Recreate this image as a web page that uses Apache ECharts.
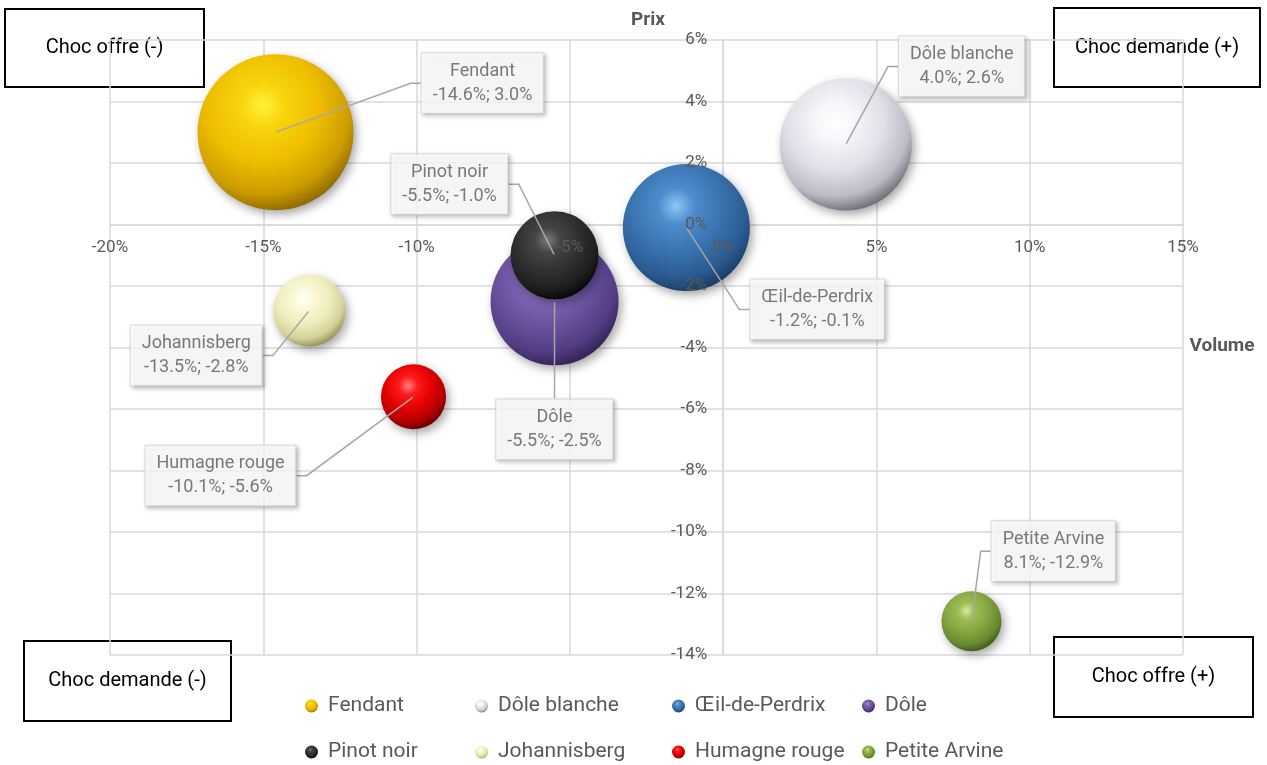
<!DOCTYPE html>
<html>
<head>
<meta charset="utf-8">
<script src="https://cdn.jsdelivr.net/npm/echarts@6/dist/echarts.min.js"></script>
<style>
html,body{margin:0;padding:0;background:#fff;}
#chart{width:1267px;height:765px;}
</style>
</head>
<body>
<div id="chart"></div>
<script>
// ---- data ----
const categories = ['Fendant', 'Dôle blanche', 'Œil-de-Perdrix', 'Dôle', 'Pinot noir', 'Johannisberg', 'Humagne rouge', 'Petite Arvine'];
const volumeChange = [-14.6, 4.0, -1.2, -5.5, -5.5, -13.5, -10.1, 8.1];   // x, %
const priceChange  = [3.0, 2.6, -0.1, -2.5, -1.0, -2.8, -5.6, -12.9];     // y, %
const bubbleSize   = [100, 71.6, 66.3, 67.3, 31.8, 21.3, 17.4, 14.8];       // relative weight
const xTickRange = { min: -20, max: 15, interval: 5 };
const yTickRange = { min: -14, max: 6, interval: 2 };
const quadrantLabels = ['Choc offre (-)', 'Choc demande (+)', 'Choc demande (-)', 'Choc offre (+)'];
const axisTitles = { x: 'Volume', y: 'Prix' };

// ---- font detection ----
function hasFont(name) {
  const c = document.createElement('canvas').getContext('2d');
  const s = 'Fendant Dôle 123% abc';
  c.font = '40px monospace';
  const a = c.measureText(s).width;
  c.font = '40px "' + name + '", monospace';
  const b = c.measureText(s).width;
  return Math.abs(a - b) > 0.5;
}
const NARROW = hasFont('Liberation Sans Narrow');
const FONT = NARROW ? '"Liberation Sans Narrow", Roboto, sans-serif' : 'Roboto, "Noto Sans", sans-serif';
const SZ = NARROW
  ? { axis: 18, label: 20, labelLH: 24, legend: 24, corner: 23, title: 21 }
  : { axis: 17, label: 18, labelLH: 24, legend: 21, corner: 20, title: 19 };

// ---- styles / layout ----
const TXT = '#595959';
const GRIDC = '#d9d9d9';
const MAX_D = 156;
const palettes = [
  ['#fff23a', '#f8d40c', '#efbd00', '#cc9c00', '#7e5c00'],
  ['#ffffff', '#f7f6fa', '#e2e0e8', '#bdbac6', '#5a5862'],
  ['#8cc6f5', '#4d8ccc', '#3a73b0', '#2a5b90', '#143558'],
  ['#a890d6', '#8268b6', '#6c529e', '#533c82', '#2a1c4a'],
  ['#7a7a7a', '#454545', '#303030', '#1e1e1e', '#000000'],
  ['#ffffff', '#fbf9d8', '#efedbc', '#d4d198', '#807d45'],
  ['#ff8080', '#ff1a1a', '#e40000', '#b00000', '#520000'],
  ['#d4eb94', '#9cbd55', '#84a540', '#688930', '#364d10']
];
const labelOffsets = [[207, -49], [116, -78], [131, 82], [0, 128], [-105, -71], [-113, 45], [-193, 79], [82, -70]];
const legendCols = [305, 475, 672, 862];
const legendRowTop = 694, legendRowStep = 46, legendLH = 24;

function sphere(p) {
  return new echarts.graphic.RadialGradient(0.42, 0.33, 0.72, [
    { offset: 0, color: p[0] },
    { offset: 0.2, color: p[1] },
    { offset: 0.5, color: p[2] },
    { offset: 0.78, color: p[3] },
    { offset: 1, color: p[4] }
  ]);
}
const maxSize = Math.max(...bubbleSize);

const series = categories.map((name, i) => ({
  name: name,
  type: 'scatter',
  z: 2,
  data: [[volumeChange[i], priceChange[i], bubbleSize[i]]],
  symbolSize: v => MAX_D * Math.sqrt(v[2] / maxSize),
  itemStyle: {
    color: sphere(palettes[i]),
    opacity: 1,
    shadowBlur: 10,
    shadowColor: 'rgba(0,0,0,0.35)',
    shadowOffsetX: 3,
    shadowOffsetY: 4
  },
  emphasis: { disabled: true }
}));

series.push({
  name: 'étiquettes',
  type: 'scatter',
  z: 5,
  silent: true,
  symbolSize: 2,
  itemStyle: { color: 'rgba(0,0,0,0)' },
  data: categories.map((n, i) => ({ name: n, value: [volumeChange[i], priceChange[i]] })),
  label: {
    show: true,
    position: 'inside',
    formatter: p => p.name + '\n' + p.value[0].toFixed(1) + '%; ' + p.value[1].toFixed(1) + '%',
    fontFamily: FONT,
    fontSize: SZ.label,
    lineHeight: SZ.labelLH,
    color: TXT,
    align: 'center',
    backgroundColor: '#ffffff',
    borderColor: GRIDC,
    borderWidth: 1,
    padding: [6, 11, 6, 11],
    shadowColor: 'rgba(0,0,0,0.25)',
    shadowBlur: 4,
    shadowOffsetX: 2,
    shadowOffsetY: 2
  },
  labelLine: {
    show: true,
    length2: 10,
    lineStyle: { color: '#a6a6a6', width: 1.5 }
  },
  labelLayout: p => ({ dx: labelOffsets[p.dataIndex][0], dy: labelOffsets[p.dataIndex][1], hideOverlap: false }),
  emphasis: { disabled: true },
  tooltip: { show: false }
});

const legends = legendCols.map((left, c) => ({
  orient: 'vertical',
  left: left,
  top: legendRowTop,
  padding: 0,
  itemGap: legendRowStep - legendLH,
  itemWidth: 13,
  itemHeight: 13,
  icon: 'circle',
  selectedMode: false,
  data: [categories[c], categories[c + 4]],
  itemStyle: { opacity: 1 },
  textStyle: { fontFamily: FONT, fontSize: SZ.legend, color: TXT, padding: [0, 0, 0, 5], lineHeight: legendLH }
}));

function box(x, y, w, h, text) {
  return {
    type: 'group',
    z: 100,
    children: [
      { type: 'rect', shape: { x: x, y: y, width: w, height: h }, style: { fill: '#fff', stroke: '#000', lineWidth: 2 } },
      { type: 'text', x: x + w / 2, y: y + h / 2, style: { text: text, font: SZ.corner + 'px ' + FONT, fill: '#000', align: 'center', verticalAlign: 'middle' } }
    ]
  };
}

function makeAxes(range, pos, margin) {
  const base = { type: 'value', min: range.min, max: range.max, interval: range.interval, position: pos, offset: 0, axisTick: { show: false } };
  // grid + axis line (below the bubbles)
  const under = Object.assign({}, base, {
    z: 0,
    axisLine: { show: true, onZero: false, lineStyle: { color: GRIDC, width: 1.5 } },
    axisLabel: { show: false },
    splitLine: { show: true, lineStyle: { color: GRIDC, width: 1.5 } }
  });
  // tick labels (drawn over the bubbles)
  const over = Object.assign({}, base, {
    z: 10,
    axisLine: { show: false, onZero: false },
    axisLabel: { show: true, formatter: '{value}%', fontFamily: FONT, fontSize: SZ.axis, color: TXT, margin: margin },
    splitLine: { show: false }
  });
  return [under, over];
}

const option = {
  animation: false,
  backgroundColor: '#fff',
  grid: { left: 110, right: 84, top: 40, bottom: 110 },
  xAxis: makeAxes(xTickRange, 'bottom', 15),
  yAxis: makeAxes(yTickRange, 'left', 16),
  legend: legends,
  series: series,
  graphic: [
    { type: 'text', x: 648, y: 20, z: 100, style: { text: axisTitles.y, font: 'bold ' + SZ.title + 'px ' + FONT, fill: TXT, align: 'center', verticalAlign: 'middle' } },
    { type: 'text', x: 1222, y: 346, z: 100, style: { text: axisTitles.x, font: 'bold ' + SZ.title + 'px ' + FONT, fill: TXT, align: 'center', verticalAlign: 'middle' } },
    box(5, 9, 199, 78, quadrantLabels[0]),
    box(1054, 8, 206, 79, quadrantLabels[1]),
    box(24, 641, 207, 80, quadrantLabels[2]),
    box(1054, 637, 199, 80, quadrantLabels[3])
  ]
};

const chart = echarts.init(document.getElementById('chart'), null, { renderer: 'canvas' });
chart.setOption(option);

// Make the axes cross at the origin (0;0), using the library's own scales.
const zeroX = chart.convertToPixel({ xAxisIndex: 0 }, 0);
const leftX = chart.convertToPixel({ xAxisIndex: 0 }, xTickRange.min);
const zeroY = chart.convertToPixel({ yAxisIndex: 0 }, 0);
const bottomY = chart.convertToPixel({ yAxisIndex: 0 }, yTickRange.min);
chart.setOption({
  xAxis: [{ offset: zeroY - bottomY }, { offset: zeroY - bottomY }],
  yAxis: [{ offset: leftX - zeroX }, { offset: leftX - zeroX }]
});
</script>
</body>
</html>
